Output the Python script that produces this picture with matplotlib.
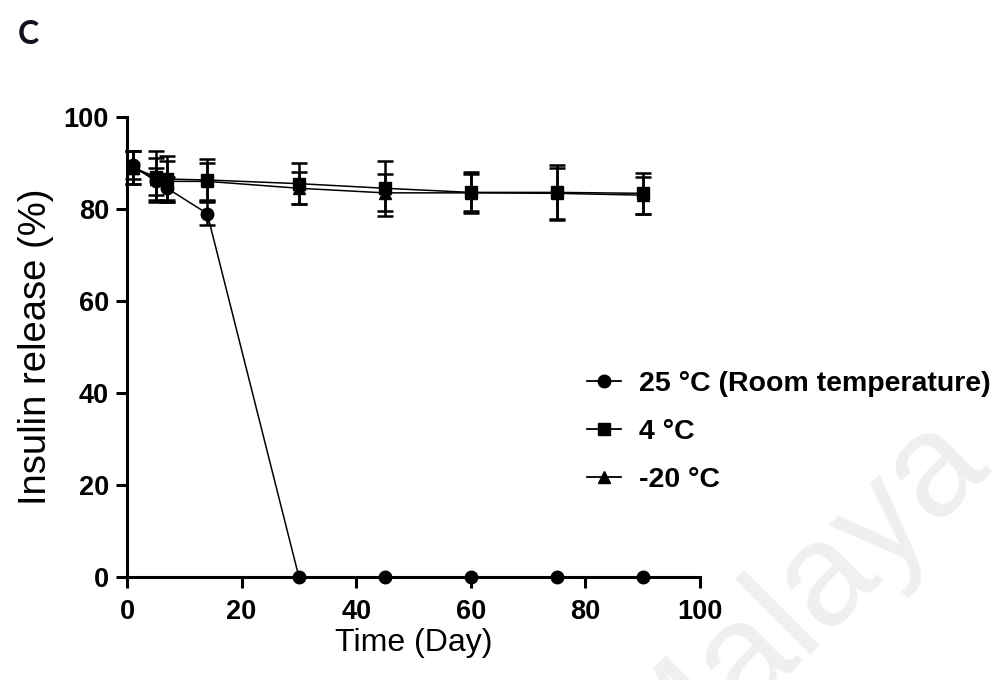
import numpy as np
import matplotlib.pyplot as plt
from matplotlib import font_manager
from matplotlib.lines import Line2D

# data
days = [1, 5, 7, 14, 30, 45, 60, 75, 90]
room_temp = [89.5, 86.0, 84.5, 79.0, 0, 0, 0, 0, 0]
room_temp_err = [3.0, 3.0, 2.5, 2.5, 0, 0, 0, 0, 0]
fridge_4c = [89.0, 87.0, 86.5, 86.3, 85.5, 84.5, 83.6, 83.6, 83.4]
fridge_4c_err = [3.5, 5.5, 5.0, 4.5, 4.5, 6.0, 4.5, 6.0, 4.5]
freezer_m20c = [89.0, 86.5, 86.0, 86.0, 84.5, 83.5, 83.5, 83.4, 83.0]
freezer_m20c_err = [3.5, 4.5, 4.5, 4.0, 3.5, 4.0, 4.0, 5.5, 4.0]

labels = ["25 °C (Room temperature)", "4 °C", "-20 °C"]
markers = ['o', 's', '^']

names = {f.name for f in font_manager.fontManager.ttflist}
main_font = "Liberation Sans Narrow" if "Liberation Sans Narrow" in names else "Liberation Sans"
plt.rcParams['font.family'] = [main_font, 'DejaVu Sans']

fig = plt.figure(figsize=(10, 6.8), dpi=100)
ax = fig.add_axes([0.127, 0.1515, 0.573, 0.6765])

# watermark
fig.text(0.99, 0.32, "Malaya", rotation=45, rotation_mode='anchor',
         ha='right', va='baseline', fontsize=105, color='#efefef',
         family='Liberation Sans', zorder=0)

ebkw = dict(color='black', ecolor='black', elinewidth=1.8, capsize=6, capthick=1.8,
            linewidth=1.1, markersize=9, clip_on=False)
ax.errorbar(days, freezer_m20c, yerr=freezer_m20c_err, marker='^', zorder=3, **ebkw)
ax.errorbar(days, fridge_4c, yerr=fridge_4c_err, marker='s', zorder=4, **ebkw)
ax.errorbar(days, room_temp, yerr=room_temp_err, marker='o', zorder=5, **ebkw)

ax.set_xlim(0, 100)
ax.set_ylim(0, 100)
ax.set_xticks(range(0, 101, 20))
ax.set_yticks(range(0, 101, 20))
ax.spines['top'].set_visible(False)
ax.spines['right'].set_visible(False)
for s in ['left', 'bottom']:
    ax.spines[s].set_linewidth(2.2)
ax.tick_params(width=2.2, length=8, labelsize=19.5)
ax.tick_params(axis='x', pad=8)
ax.tick_params(axis='y', pad=5)
for lab in ax.get_xticklabels() + ax.get_yticklabels():
    lab.set_fontweight('bold')

ax.set_xlabel("Time (Day)", fontsize=23, labelpad=2)
ax.set_ylabel("Insulin release (%)", fontsize=27.5, family='Liberation Sans', labelpad=7)

# legend handles: line + marker only
handles = [Line2D([], [], color='black', linewidth=1.3, marker=m, markersize=9) for m in markers]
ax.legend(handles, labels, loc='center left', bbox_to_anchor=(0.758, 0.315), frameon=False,
          prop={'size': 20.5, 'weight': 'bold'}, handlelength=1.2,
          labelspacing=0.78, handletextpad=0.63)

fig.text(0.018, 0.935, "C", fontsize=23, fontweight='bold', family='Lato', color='#111122')

fig.savefig("out.png", dpi=100)
